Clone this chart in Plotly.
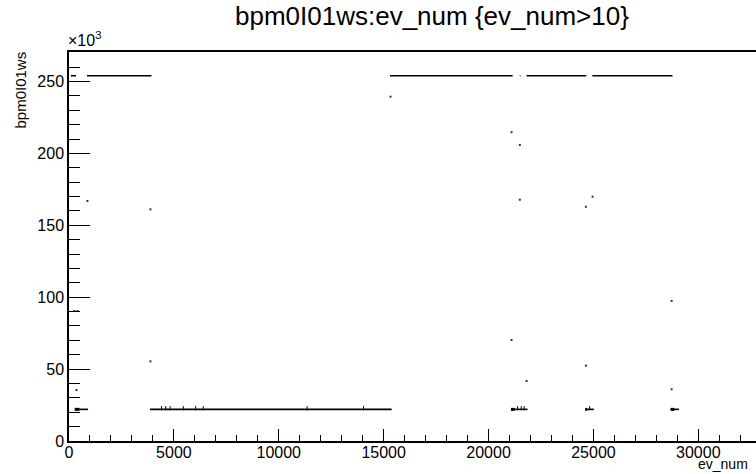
import plotly.graph_objects as go

# ---- data (bpm0I01ws in units of 10^3, vs ev_num) ----
# dense runs of events at the high level (~254k)
high_start = [90, 860, 15300, 21490, 21810, 24950]
high_end   = [330, 3930, 21150, 21520, 24660, 28770]
high_val   = [254.0, 254.0, 254.0, 254.0, 254.0, 254.0]

# dense runs of events at the low level (~22k)
low_start = [510, 3860, 21070, 24610, 28680]
low_end   = [910, 15380, 21860, 25020, 29080]
low_val   = [22.0, 22.0, 22.0, 22.0, 22.0]

# thick clusters at the low level
clus_start = [270, 21070, 24610, 28680]
clus_end   = [510, 21250, 24700, 28860]
clus_val   = [22.0, 22.0, 22.0, 22.0]

# small excursions just above the low line
bump_ev  = [4410, 4610, 4820, 5450, 6040, 6400, 11350, 14040, 21380, 21560, 21700, 24820]
bump_val = [22.8, 22.8, 22.8, 22.8, 22.8, 22.8, 22.8, 22.8, 22.8, 22.8, 22.8, 22.8]

# isolated events
iso_ev  = [360, 250, 400, 877, 3882, 3882, 15327, 21097, 21493, 21493, 24960, 24640,
           28727, 21097, 24640, 21812, 28727]
iso_val = [35.5, 90.4, 90.4, 166.9, 161.1, 55.4, 239.4, 214.7, 205.8, 167.8, 169.9, 162.9,
           97.4, 70.2, 52.4, 41.7, 36.0]

x_range = [0, 32750]
y_range = [0, 270.5]

FONT = "Liberation Sans, Arial, Helvetica, sans-serif"

fig = go.Figure()

def seg_trace(xs, xe, ys, width):
    X, Y = [], []
    for a, b, v in zip(xs, xe, ys):
        X += [a, b, None]
        Y += [v, v, None]
    return go.Scatter(x=X, y=Y, mode="lines", line=dict(color="black", width=width),
                      hoverinfo="skip", showlegend=False)

fig.add_trace(seg_trace(high_start, high_end, high_val, 1.6))
fig.add_trace(seg_trace(low_start, low_end, low_val, 1.6))
fig.add_trace(seg_trace(clus_start, clus_end, clus_val, 3.0))
fig.add_trace(go.Scatter(x=bump_ev, y=bump_val, mode="markers",
                         marker=dict(color="black", size=3, symbol="line-ns",
                                     line=dict(width=1, color="black")),
                         showlegend=False))
fig.add_trace(go.Scatter(x=iso_ev, y=iso_val, mode="markers",
                         marker=dict(color="#333333", size=2, symbol="square", line=dict(width=0)),
                         showlegend=False))

fig.update_layout(
    width=756, height=474,
    margin=dict(l=69, r=0, t=52, b=33),
    paper_bgcolor="white", plot_bgcolor="white",
    font=dict(family=FONT, color="black", size=16),
    showlegend=False,
    xaxis=dict(range=x_range, showgrid=False, zeroline=False,
               showline=True, linecolor="black", linewidth=1.5, mirror=True,
               ticks="inside", ticklen=12, tickwidth=1.2, tickcolor="black",
               tick0=0, dtick=5000, tickformat="d", ticklabelstandoff=-4,
               tickfont=dict(size=16, family=FONT),
               minor=dict(ticks="inside", ticklen=6, tickwidth=1.2, tickcolor="black",
                          dtick=1000, tick0=0, showgrid=False)),
    yaxis=dict(range=y_range, showgrid=False, zeroline=False,
               showline=True, linecolor="black", linewidth=1.5,
               ticks="inside", ticklen=21, tickwidth=1.2, tickcolor="black",
               tick0=0, dtick=50,
               tickfont=dict(size=16, family=FONT),
               minor=dict(ticks="inside", ticklen=11, tickwidth=1.2, tickcolor="black",
                          dtick=10, tick0=0, showgrid=False)),
)

annotations = [
    dict(text="bpm0I01ws:ev_num {ev_num>10}", xref="paper", yref="paper",
         x=(432 - 69) / 687, y=(441 - 16) / 389, xanchor="center", yanchor="middle",
         showarrow=False, font=dict(size=26, family=FONT)),
    dict(text="bpm0I01ws", xref="paper", yref="paper", textangle=-90,
         x=(20 - 69) / 687, y=(441 - 50) / 389, xanchor="center", yanchor="top",
         showarrow=False, font=dict(size=15, family=FONT)),
    dict(text="×10<sup>3</sup>", xref="paper", yref="paper",
         x=(66 - 69) / 687, y=(441 - 51) / 389, xanchor="left", yanchor="bottom",
         showarrow=False, font=dict(size=16, family=FONT)),
    dict(text="ev_num", xref="paper", yref="paper",
         x=(750 - 69) / 687, y=(441 - 474) / 389, xanchor="right", yanchor="bottom",
         showarrow=False, font=dict(size=14, family=FONT)),
]
fig.update_layout(annotations=annotations)

fig.write_html("out.html")
